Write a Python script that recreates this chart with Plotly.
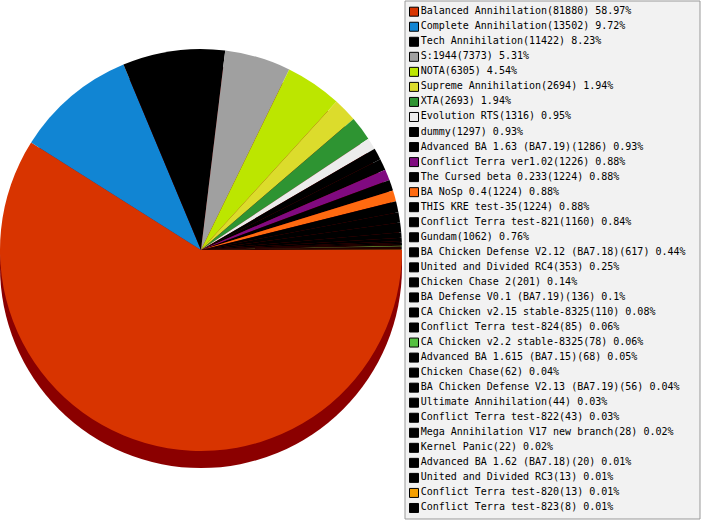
import plotly.graph_objects as go

# 数据：名称、局数、颜色
names = [
    "Balanced Annihilation", "Complete Annihilation", "Tech Annihilation",
    "S:1944", "NOTA", "Supreme Annihilation", "XTA", "Evolution RTS",
    "dummy", "Advanced BA 1.63 (BA7.19)", "Conflict Terra ver1.02",
    "The Cursed beta 0.233", "BA NoSp 0.4", "THIS KRE test-35",
    "Conflict Terra test-821", "Gundam", "BA Chicken Defense V2.12 (BA7.18)",
    "United and Divided RC4", "Chicken Chase 2", "BA Defense V0.1 (BA7.19)",
    "CA Chicken v2.15 stable-8325", "Conflict Terra test-824",
    "CA Chicken v2.2 stable-8325", "Advanced BA 1.615 (BA7.15)",
    "Chicken Chase", "BA Chicken Defense V2.13 (BA7.19)",
    "Ultimate Annihilation", "Conflict Terra test-822",
    "Mega Annihilation V17 new branch", "Kernel Panic",
    "Advanced BA 1.62 (BA7.18)", "United and Divided RC3",
    "Conflict Terra test-820", "Conflict Terra test-823",
]
counts = [
    81880, 13502, 11422, 7373, 6305, 2694, 2693, 1316, 1297, 1286, 1226,
    1224, 1224, 1224, 1160, 1062, 617, 353, 201, 136, 110, 85, 78, 68, 62,
    56, 44, 43, 28, 22, 20, 13, 13, 8,
]
colors = [
    "#d83400", "#1185d3", "#000000", "#a0a0a0", "#bce600", "#dcdc2c",
    "#2e9432", "#ececec", "#000000", "#000000", "#800a80", "#000000",
    "#ff6a10", "#000000", "#000000", "#000000", "#000000", "#000000",
    "#000000", "#000000", "#000000", "#000000", "#55c040", "#000000",
    "#000000", "#000000", "#000000", "#000000", "#000000", "#000000",
    "#000000", "#000000", "#f5a000", "#000000",
]

total = sum(counts)
legend_text = [f"{n}({c}) {round(c / total * 100, 2):g}%" for n, c in zip(names, counts)]

W, H = 701, 520

fig = go.Figure()

# 阴影（立体边）
fig.add_trace(go.Pie(
    values=[total], labels=[""], marker=dict(colors=["#8b0000"], line=dict(width=0)),
    domain=dict(x=[0, 402 / W], y=[3 / H, 1 - 17 / H]),
    textinfo="none", hoverinfo="skip", sort=False, showlegend=False,
))

# 主饼图
fig.add_trace(go.Pie(
    labels=names, values=counts,
    marker=dict(colors=colors, line=dict(width=0)),
    domain=dict(x=[0, 402 / W], y=[20 / H, 1]),
    rotation=90, direction="clockwise", sort=False,
    textinfo="none", showlegend=False,
))

# 图例（用散点画在右侧）
fig.add_trace(go.Scatter(
    x=[0] * len(names), y=list(range(len(names))),
    mode="markers+text", text=legend_text, textposition="middle right",
    marker=dict(symbol="square", size=9, color=colors, line=dict(color="#000000", width=1)),
    textfont=dict(family="DejaVu Sans Mono", size=10, color="#000000"),
    hoverinfo="skip", showlegend=False, cliponaxis=False,
))

fig.update_layout(
    width=W, height=H,
    margin=dict(l=0, r=0, t=0, b=0),
    paper_bgcolor="white", plot_bgcolor="rgba(0,0,0,0)",
    xaxis=dict(domain=[405 / W, 700 / W], range=[-9, 286], visible=False, fixedrange=True),
    yaxis=dict(domain=[0, 1], range=[33.80, -0.778], visible=False, fixedrange=True),
    shapes=[dict(
        type="rect", xref="paper", yref="paper", layer="below",
        x0=405 / W, x1=700 / W, y0=1 / H, y1=519 / H,
        fillcolor="#f2f2f2", line=dict(color="#999999", width=1),
    )],
)

fig.write_html("out.html", config={"displayModeBar": False},
               post_script="document.body.style.margin='0';")
